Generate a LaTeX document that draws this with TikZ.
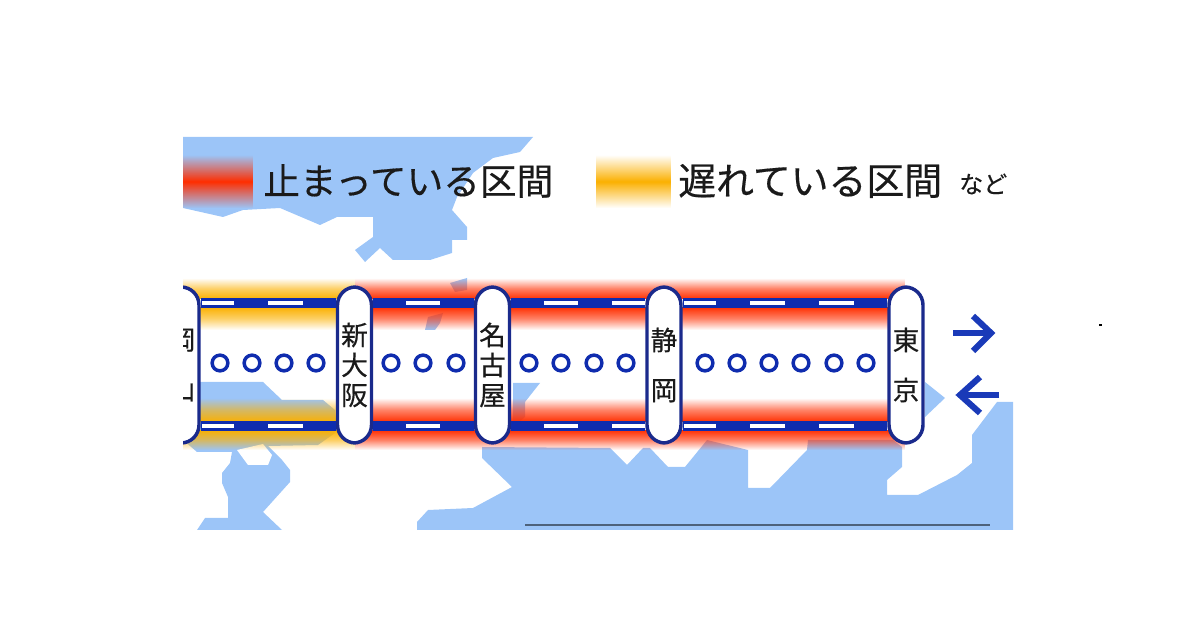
\documentclass[tikz,border=0pt]{standalone}
\usepackage{fontspec}
\setmainfont[RawFeature={embolden=0.35}]{Noto Sans CJK JP}
\usetikzlibrary{fadings}
\definecolor{seablue}{HTML}{9CC5F8}
\definecolor{trackblue}{HTML}{0F2CAE}
\definecolor{pillblue}{HTML}{1A2A8C}
\definecolor{arrowblue}{HTML}{1A3AB8}
\definecolor{stopred}{HTML}{FF2E00}
\definecolor{lateorange}{HTML}{FBB000}
\definecolor{inkblack}{HTML}{1A1A1A}
\tikzfading[name=fadein, top color=transparent!100, bottom color=transparent!0, middle color=transparent!40]
\tikzfading[name=fadeout, top color=transparent!0, bottom color=transparent!100, middle color=transparent!40]
\tikzfading[name=fadeboth, top color=transparent!100, bottom color=transparent!100, middle color=transparent!0]
\tikzset{
  sea/.style={fill=seablue, draw=none},
  pill/.style={draw=pillblue, line width=2.6pt, fill=white, rounded corners=13.5pt, minimum width=25.5pt, minimum height=117pt, inner sep=0pt, align=center, text=inkblack},
  tightpill/.style={pill, font=\fontsize{20}{22.5}\selectfont},
  widepill/.style={pill, font=\fontsize{20}{37.5}\selectfont},
  tracktop/.style={draw=trackblue, line width=7.2pt},
  dashwhite/.style={draw=white, line width=3.2pt},
  stopdot/.style={circle, draw=trackblue, line width=2.6pt, fill=white, minimum size=11.8pt, inner sep=0pt},
  dirarrow/.style={draw=arrowblue, line width=4.6pt, line join=miter},
  legendtext/.style={anchor=west, inner sep=0pt, text=inkblack}
}
\begin{document}
\begin{tikzpicture}[x=0.75pt,y=-0.75pt]
\useasboundingbox (0,0) rectangle (1200,630);
\begin{scope}
\clip (183,137) rectangle (1013,530);
% map: northern sea
\fill[sea] (183,137) -- (533,137) -- (520,152) -- (493,158) -- (473,173) -- (457,197) -- (452,210) -- (467,227) -- (467,240) -- (452,240) -- (452,253) -- (430,260) -- (393,260) -- (380,248) -- (365,262) -- (355,250) -- (373,237) -- (373,217) -- (337,217) -- (320,225) -- (280,208) -- (243,210) -- (223,217) -- (183,208) -- cycle;
% map: inland sea
\fill[sea] (183,382) -- (263,382) -- (282,400) -- (323,400) -- (335,410) -- (335,433) -- (318,445) -- (268,446) -- (282,460) -- (290,470) -- (290,482) -- (263,512) -- (282,530) -- (197,530) -- (205,518) -- (228,518) -- (228,497) -- (222,483) -- (222,473) -- (230,463) -- (232,452) -- (197,452) -- (183,440) -- cycle;
\fill[white] (237,450) -- (248,465) -- (268,465) -- (272,455) -- (263,444) -- cycle;
% map: small patches
\fill[sea] (450,283) -- (467,278) -- (467,290) -- (455,292) -- cycle;
\fill[sea] (425,330) -- (428,317) -- (443,313) -- (440,323) -- (435,330) -- cycle;
\fill[sea] (513,383) -- (540,383) -- (525,402) -- (525,417) -- (513,427) -- cycle;
\fill[sea] (925,382) -- (945,398) -- (925,417) -- cycle;
% map: southern sea
\fill[sea] (482,447) -- (482,458) -- (512,487) -- (473,508) -- (428,510) -- (417,522) -- (417,530) -- (1013,530) -- (1013,402) -- (997,402) -- (972,435) -- (972,463) -- (957,475) -- (918,495) -- (887,495) -- (887,480) -- (902,467) -- (902,447) -- (893,440) -- (808,440) -- (807,450) -- (770,488) -- (748,488) -- (748,450) -- (707,440) -- (685,467) -- (668,467) -- (650,448) -- (643,448) -- (627,465) -- (610,448) -- cycle;
% disruption bands
\fill[lateorange, path fading=fadein] (183,278) rectangle (355,299);
\fill[lateorange, path fading=fadeout] (183,307) rectangle (355,330);
\fill[lateorange, path fading=fadein] (183,398) rectangle (355,422);
\fill[lateorange, path fading=fadeout] (183,430) rectangle (355,450);
\fill[stopred, path fading=fadein] (355,278) rectangle (905,299);
\fill[stopred, path fading=fadeout] (355,307) rectangle (905,330);
\fill[stopred, path fading=fadein] (355,398) rectangle (905,422);
\fill[stopred, path fading=fadeout] (355,430) rectangle (905,450);
% legend swatches
\fill[stopred, path fading=fadeboth] (183,155) rectangle (253,208);
\fill[lateorange, path fading=fadeboth] (596,155) rectangle (671,208);
% stations
\node[widepill] (okayama) at (182,365) {岡\\山};
\node[tightpill] (shinosaka) at (354.5,365) {新\\大\\阪};
\node[tightpill] (nagoya) at (492.5,365) {名\\古\\屋};
\node[widepill] (shizuoka) at (664,365) {静\\岡};
\node[widepill] (tokyo) at (906,365) {東\\京};
\coordinate (upper) at (0,303);
\coordinate (lower) at (0,426);
% tracks
\foreach \a/\b in {okayama/shinosaka,shinosaka/nagoya,nagoya/shizuoka,shizuoka/tokyo}{
  \draw[tracktop] (\a.east |- upper) -- (\b.west |- upper);
  \draw[tracktop] (\a.east |- lower) -- (\b.west |- lower);
}
\foreach \xa/\xb in {202/234,268/303,406/440,544/578,612/645,684/716,750/785,819/854}{
  \draw[dashwhite] (\xa,303) -- (\xb,303);
  \draw[dashwhite] (\xa,426) -- (\xb,426);
}
\foreach \x in {220,252,284,316,391,423,456,529,561,594,626,705,737,769,801,834,866}{
  \node[stopdot] (dot\x) at (\x,363) {};
}
% legend text
\node[legendtext, font=\fontsize{27.5}{30}\selectfont] (legstop) at (263,181) {止まっている区間};
\node[legendtext, font=\fontsize{28.4}{30}\selectfont] (leglate) at (678,181) {遅れている区間};
\node[legendtext, font=\fontsize{18}{20}\selectfont] (legetc) at (959,184) {など};
% arrows
\coordinate (ra) at (953,333);
\coordinate (rb) at (990,333);
\coordinate (la) at (999,395);
\coordinate (lb) at (961,395);
\draw[dirarrow] (ra) -- (rb);
\draw[dirarrow] (973,316) -- (991,333) -- (973,351);
\draw[dirarrow] (la) -- (lb);
\draw[dirarrow] (980,377) -- (960,395) -- (980,413);
% scale line
\draw[draw=black!45!seablue!90!black, line width=1.1pt] (525,525) -- (990,525);
\end{scope}
\fill[black] (1099,324.5) rectangle (1102,326.5);
\end{tikzpicture}
\end{document}
